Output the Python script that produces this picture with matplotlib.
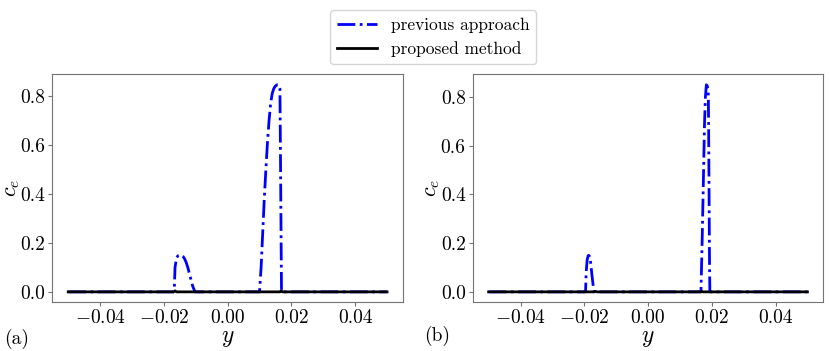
import numpy as np
import matplotlib
matplotlib.use("Agg")
import matplotlib.pyplot as plt

plt.rcParams['font.family'] = 'serif'
plt.rcParams['font.serif'] = ['cmr10']
plt.rcParams['mathtext.fontset'] = 'cm'
plt.rcParams['axes.formatter.use_mathtext'] = True
plt.rcParams['font.size'] = 14

# (a) previous approach, two bumps on a zero baseline
ya_x = [-0.05, -0.0170, -0.0167, -0.0165, -0.0160, -0.0155, -0.0150, -0.0145, -0.0140,
        -0.0135, -0.0130, -0.0125, -0.0120, -0.0115, -0.0110, -0.0105, -0.0102,
        0.0100, 0.0105, 0.0110, 0.0115, 0.0120, 0.0125, 0.0130, 0.0135, 0.0140,
        0.0145, 0.0150, 0.0155, 0.0160, 0.0164, 0.0165, 0.0166, 0.0167, 0.0168,
        0.0169, 0.05]
ya_prev = [0, 0, 0.02, 0.10, 0.14, 0.148, 0.15, 0.15, 0.145,
           0.135, 0.12, 0.10, 0.075, 0.05, 0.025, 0.008, 0,
           0, 0.10, 0.24, 0.38, 0.50, 0.61, 0.70, 0.77, 0.81,
           0.83, 0.84, 0.845, 0.845, 0.83, 0.68, 0.52, 0.34, 0.17,
           0, 0]
# (b) previous approach, narrower bumps
yb_x = [-0.05, -0.0196, -0.0194, -0.0191, -0.0188, -0.0186, -0.0183, -0.0180, -0.0176,
        -0.0172, -0.0169,
        0.0166, 0.0170, 0.0174, 0.0177, 0.0180, 0.0183, 0.0186, 0.0189, 0.0190,
        0.0191, 0.0192, 0.0193, 0.0194, 0.05]
yb_prev = [0, 0, 0.08, 0.13, 0.148, 0.15, 0.145, 0.12, 0.07,
           0.025, 0,
           0, 0.22, 0.48, 0.68, 0.80, 0.85, 0.845, 0.82, 0.70,
           0.50, 0.30, 0.10, 0, 0]
# proposed method stays at zero (tiny blips near the interfaces)
prop_x = [-0.05, -0.0170, -0.0165, -0.0160, 0.0165, 0.0168, 0.0172, 0.05]
prop_a = [0, 0, 0.004, 0, 0, 0.004, 0, 0]
prop_b = [0, 0, 0.002, 0, 0, 0.002, 0, 0]

xticks = [-0.04, -0.02, 0.00, 0.02, 0.04]
yticks = [0.0, 0.2, 0.4, 0.6, 0.8]

fig = plt.figure(figsize=(8.3, 3.51), dpi=100)
ax1 = fig.add_axes([0.063, 0.139, 0.4225, 0.649])
ax2 = fig.add_axes([0.5695, 0.139, 0.4225, 0.649])

for ax, px, py, pp in [(ax1, ya_x, ya_prev, prop_a), (ax2, yb_x, yb_prev, prop_b)]:
    ax.plot(px, py, color='blue', linestyle='-.', linewidth=2, label='previous approach')
    ax.plot(prop_x, pp, color='black', linestyle='-', linewidth=2, label='proposed method')
    ax.set_xticks(xticks)
    ax.set_yticks(yticks)
    ax.set_xticklabels(['%.2f' % t if t >= 0 else r'$-$%.2f' % -t for t in xticks])
    ax.set_yticklabels(['%.1f' % t for t in yticks])
    ax.set_xlabel(r'$y$', fontsize=17, labelpad=0)
    ax.set_ylabel(r'$c_e$', fontsize=16, labelpad=-1)
    for s in ax.spines.values():
        s.set_color('0.45')
    ax.tick_params(color='0.45', length=3, pad=2)

handles, labels = ax1.get_legend_handles_labels()
fig.legend(handles, labels, loc='upper center', bbox_to_anchor=(0.522, 0.995),
           frameon=True, handlelength=2.3, fontsize=12.5)

fig.text(0.005, 0.033, '(a)', va='center')
fig.text(0.511, 0.042, '(b)', va='center')

plt.savefig("out.png", dpi=100)
